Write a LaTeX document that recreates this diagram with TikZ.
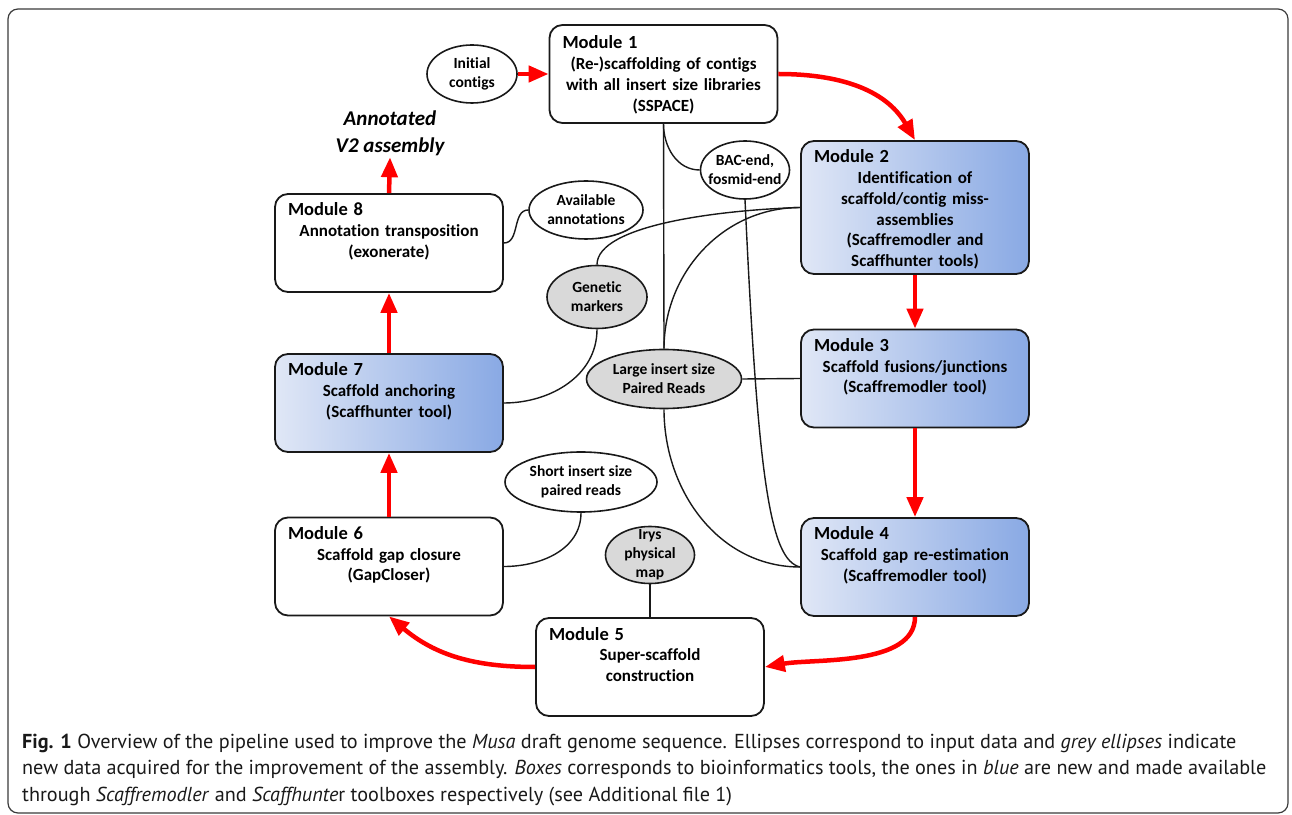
\documentclass[tikz,border=0pt]{standalone}
\usepackage{fontspec}
\setmainfont{Carlito}[Ligatures=NoCommon]
\newfontfamily\capfont{PT Sans}
\usetikzlibrary{shapes.geometric,arrows.meta}
\definecolor{flowred}{RGB}{255,0,0}
\definecolor{datgrey}{RGB}{217,217,217}
\definecolor{blueL}{RGB}{224,231,246}
\definecolor{blueR}{RGB}{137,169,228}
\definecolor{edge}{RGB}{25,25,25}
\newcommand{\modname}[1]{\makebox[202pt][l]{\fontsize{18.5}{20}\selectfont #1}}
\begin{document}
\begin{tikzpicture}[x=1pt, y=1pt,
    modbox/.style={draw=edge, line width=1.8pt, rounded corners=13pt, fill=white,
      inner xsep=13pt, inner ysep=0pt, text width=202pt, align=center,
      text height=22pt, text depth=76pt, font=\fontsize{17}{20.7}\selectfont\bfseries},
    newbox/.style={modbox, left color=blueL, right color=blueR},
    dat/.style={draw=edge, ellipse, line width=1.6pt, inner sep=0pt, fill=white},
    newdat/.style={dat, fill=datgrey},
    lbl/.style={align=center, inner sep=0pt, font=\fontsize{15.5}{19}\selectfont\bfseries},
    flow/.style={draw=flowred, line width=4.5pt, -{Triangle[length=20pt, width=16pt]}},
    link/.style={draw=edge, line width=1.4pt}]
\useasboundingbox (0,0) rectangle (1292,814);
\draw[edge!85, line width=1.2pt, rounded corners=10pt] (8,1) rectangle (1288,805);

% tools
\node[modbox, text height=24pt, text depth=74pt] (m1) at (663.5,740) {\modname{Module 1}\\(Re-)scaffolding of contigs\\with all insert size libraries\\(SSPACE)};
\node[newbox, text depth=111pt] (m2) at (915,606.5) {\modname{Module 2}\\Identification of\\scaffold/contig miss-\\assemblies\\(Scaffremodler and\\Scaffhunter tools)};
\node[newbox] (m3) at (915,435.5) {\modname{Module 3}\\Scaffold fusions/junctions\\(Scaffremodler tool)};
\node[newbox] (m4) at (915,247) {\modname{Module 4}\\Scaffold gap re-estimation\\(Scaffremodler tool)};
\node[modbox] (m5) at (650,147) {\modname{Module 5}\\Super-scaffold\\construction};
\node[modbox] (m6) at (389,247.5) {\modname{Module 6}\\Scaffold gap closure\\(GapCloser)};
\node[newbox] (m7) at (389,411) {\modname{Module 7}\\Scaffold anchoring\\(Scaffhunter tool)};
\node[modbox] (m8) at (389,571) {\modname{Module 8}\\Annotation transposition\\(exonerate)};
\node[align=center, inner sep=1pt, font=\fontsize{21}{27}\selectfont\bfseries\itshape] (annot) at (390,680.5) {Annotated\\V2 assembly};

% input data
\node[dat, minimum width=90pt, minimum height=58pt, label={[lbl]center:{Initial\\contigs}}] (init) at (472,740) {};
\node[dat, minimum width=89pt, minimum height=58pt, label={[lbl]center:{BAC-end,\\fosmid-end}}] (bac) at (745,644) {};
\node[dat, minimum width=114pt, minimum height=58pt, label={[lbl]center:{Available\\annotations}}] (avail) at (586,604) {};
\node[newdat, minimum width=100pt, minimum height=63pt, label={[lbl]center:{Genetic\\markers}}] (genetic) at (597,517) {};
\node[newdat, minimum width=155pt, minimum height=59pt, label={[lbl]center:{Large insert size\\Paired Reads}}] (large) at (664,435) {};
\node[dat, minimum width=152pt, minimum height=60pt, label={[lbl]center:{Short insert size\\paired reads}}] (short) at (581,332) {};
\node[newdat, minimum width=89pt, minimum height=57pt, label={[lbl]center:{Irys\\physical\\map}}] (irys) at (650,259) {};

% data links
\draw[link] (m1.south) -- (large.north);
\draw[link] (m1.south) to[out=-90, in=180] (bac.west);
\draw[link] (bac.south) .. controls (758,334) and (770,254) .. (m4.west);
\draw[link] (large.south) to[out=-90, in=180] (m4.west);
\draw[link] (large.east) -- (m3.west);
\draw[link] (m2.west) .. controls (720,604) and (597,589) .. (genetic.north);
\draw[link] (m2.west) to[out=180, in=90] (large.north);
\draw[link] (genetic.south) to[out=-90, in=0] (m7.east);
\draw[link] (short.south) to[out=-90, in=0] (m6.east);
\draw[link] (m8.east) to[out=0, in=180] (avail.west);
\draw[link] (irys.south) -- (m5.north);

% pipeline
\draw[flow] (init.east) -- (m1.west);
\draw[flow] (m1.east) to[out=0, in=120] (m2.north);
\draw[flow] (m2.south) -- (m3.north);
\draw[flow] (m3.south) -- (m4.north);
\draw[flow] (m4.south) to[out=-90, in=10, looseness=0.8] (m5.east);
\draw[flow] (m5.west) to[out=180, in=-40] (m6.south);
\draw[flow] (m6.north) -- (m7.south);
\draw[flow] (m7.north) -- (m8.south);
\draw[flow] (m8.north) -- (annot.south);

% base anchor sits on the last line
\node[anchor=base west, align=left, inner sep=0pt, text=edge, font=\capfont\fontsize{20.2}{26.5}\selectfont] (caption) at (22,13) {\textbf{Fig. 1} Overview of the pipeline used to improve the \textit{Musa} draft genome sequence. Ellipses correspond to input data and \textit{grey ellipses} indicate\\new data acquired for the improvement of the assembly. \textit{Boxes} corresponds to bioinformatics tools, the ones in \textit{blue} are new and made available\\through \textit{Scaffremodler} and \textit{Scaffhunte}r toolboxes respectively (see Additional file 1)};
\end{tikzpicture}
\end{document}
